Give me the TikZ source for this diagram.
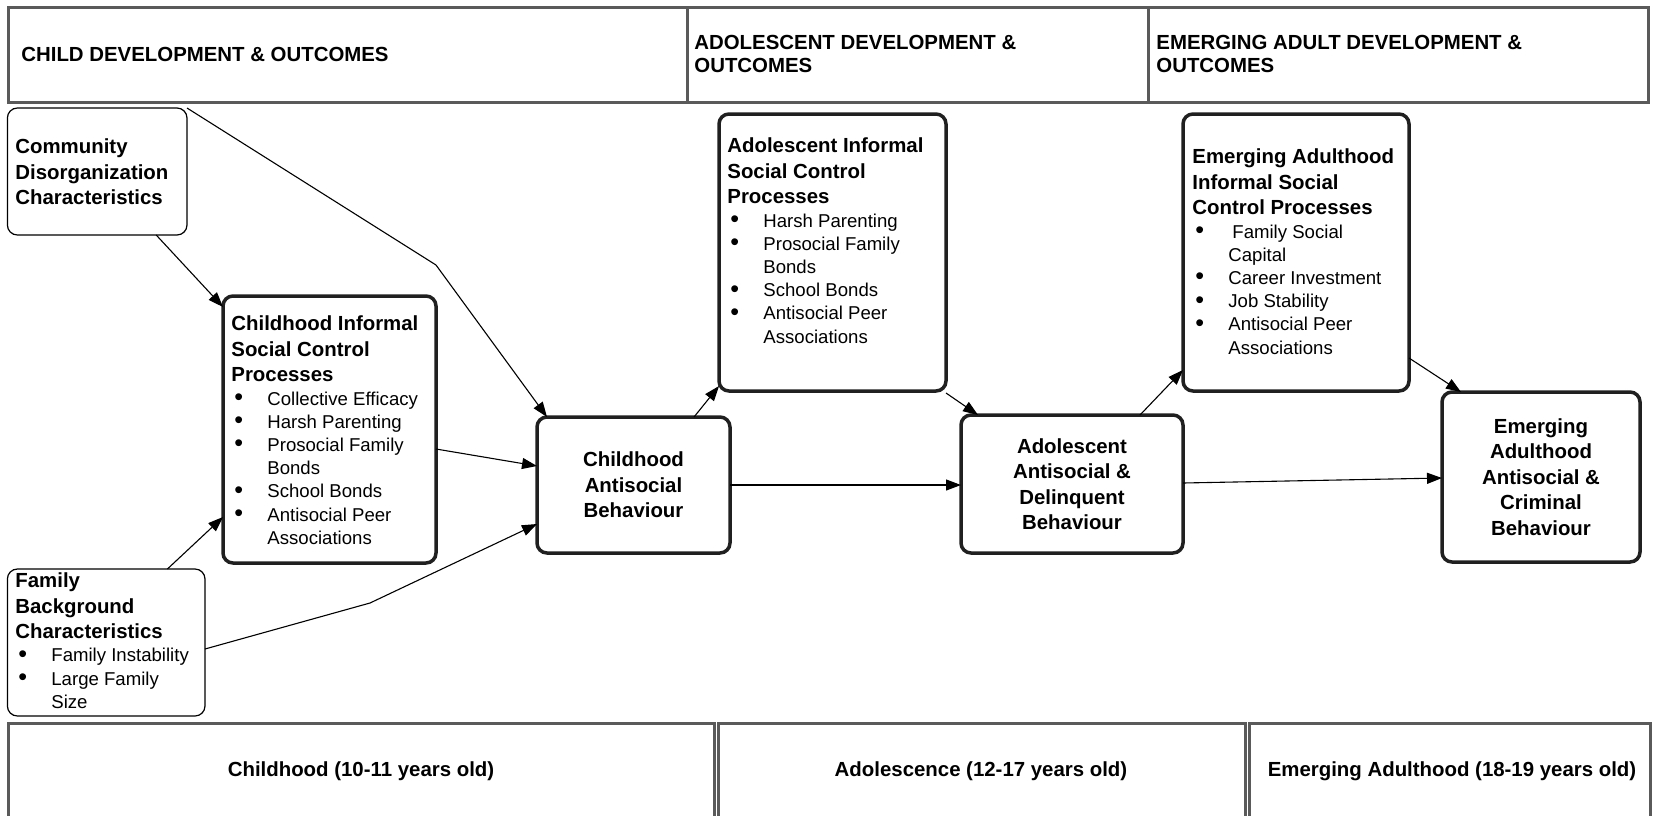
\documentclass[tikz,border=0pt]{standalone}
\usepackage{fontspec}
\setmainfont{Liberation Sans}
\usetikzlibrary{arrows.meta,calc}
\definecolor{bandgray}{HTML}{5A5A5A}
\definecolor{boxblack}{HTML}{202020}
\newcommand{\bul}{\makebox[16.5pt][l]{\raisebox{-0.25pt}{\scalebox{1.35}{\textbullet}}}}
\newcommand{\cont}{\hspace*{16.5pt}}
\begin{document}
\begin{tikzpicture}[x=0.5pt,y=-0.5pt,
  band/.style={draw=bandgray, line width=1.5pt, rectangle, inner sep=0pt, outer sep=0pt},
  thickbox/.style={draw=boxblack, line width=1.75pt, rectangle, rounded corners=5pt, inner sep=0pt, outer sep=0pt, fill=white},
  thinbox/.style={draw=black, line width=0.6pt, rectangle, rounded corners=5pt, inner sep=0pt, outer sep=0pt, fill=white},
  bandtext/.style={inner sep=0pt, font=\fontsize{10.2}{11.5}\selectfont\bfseries, align=left},
  titletext/.style={inner sep=0pt, anchor=north west, font=\fontsize{10.2}{12.65}\selectfont\bfseries, align=left},
  listtext/.style={inner sep=0pt, anchor=north west, font=\fontsize{9.3}{11.6}\selectfont, align=left},
  centertext/.style={align=center, font=\fontsize{10.2}{12.7}\selectfont\bfseries},
  arr/.style={draw=black, line width=0.55pt, -{Triangle[length=7.5pt,width=5.5pt]}},
  ln/.style={draw=black, line width=0.55pt}]
\clip (0,0) rectangle (1654,815);
\fill[white] (0,0) rectangle (1654,815);

% header bands
\node[band, minimum width=339.3pt, minimum height=47.3pt] (hdr1) at (347.7,54.7) {};
\node[band, minimum width=230.5pt, minimum height=47.3pt] (hdr2) at (917.5,54.7) {};
\node[band, minimum width=250pt, minimum height=47.3pt] (hdr3) at (1398,54.7) {};
\node[bandtext, anchor=west] (hdr1t) at (21,54) {CHILD DEVELOPMENT \& OUTCOMES};
\node[bandtext, anchor=west] (hdr2t) at (694,53.5) {ADOLESCENT DEVELOPMENT \&\\OUTCOMES};
\node[bandtext, anchor=west] (hdr3t) at (1156,53.5) {EMERGING ADULT DEVELOPMENT \&\\OUTCOMES};

% footer bands
\node[band, minimum width=352.8pt, minimum height=49.5pt] (ftr1) at (361.2,772.5) {};
\node[band, minimum width=263.5pt, minimum height=49.5pt] (ftr2) at (981.5,772.5) {};
\node[band, minimum width=200.5pt, minimum height=49.5pt] (ftr3) at (1449.5,772.5) {};
\node[bandtext] (ftr1t) at (361,771) {Childhood (10-11 years old)};
\node[bandtext] (ftr2t) at (981,771) {Adolescence (12-17 years old)};
\node[bandtext] (ftr3t) at (1452,771) {Emerging Adulthood (18-19 years old)};

% boxes
\node[thinbox, minimum width=89.8pt, minimum height=63.5pt] (comm) at (97.2,171.5) {};
\node[titletext] (commt) at (15,138.6) {Community\\Disorganization\\Characteristics};

\node[thickbox, minimum width=106.5pt, minimum height=133.5pt] (cisc) at (329.5,429.5) {};
\node[titletext] (cisct) at (231,315.6) {Childhood Informal\\Social Control\\Processes};
\node[listtext] (ciscl) at (234,391.2) {\bul Collective Efficacy\\\bul Harsh Parenting\\\bul Prosocial Family\\\cont Bonds\\\bul School Bonds\\\bul Antisocial Peer\\\cont Associations};

\node[thinbox, minimum width=98.8pt, minimum height=73.5pt] (fam) at (106.2,642.5) {};
\node[titletext] (famt) at (15,572.6) {Family\\Background\\Characteristics};
\node[listtext] (faml) at (18,648) {\bul Family Instability\\\bul Large Family\\\cont Size};

\node[thickbox, minimum width=96.5pt, minimum height=68pt, centertext] (cab) at (633.5,485) {Childhood\\Antisocial\\Behaviour};

\node[thickbox, minimum width=113.5pt, minimum height=138.5pt] (aisc) at (832.5,252.5) {};
\node[titletext] (aisct) at (727,137.6) {Adolescent Informal\\Social Control\\Processes};
\node[listtext] (aiscl) at (730,213.2) {\bul Harsh Parenting\\\bul Prosocial Family\\\cont Bonds\\\bul School Bonds\\\bul Antisocial Peer\\\cont Associations};

\node[thickbox, minimum width=111pt, minimum height=69pt, centertext] (aad) at (1072,484) {Adolescent\\Antisocial \&\\Delinquent\\Behaviour};

\node[thickbox, minimum width=113pt, minimum height=138.5pt] (eisc) at (1296,252.5) {};
\node[titletext] (eisct) at (1192,148.6) {Emerging Adulthood\\Informal Social\\Control Processes};
\node[listtext] (eiscl) at (1195,224.2) {\bul\hspace{2pt}Family Social\\\cont Capital\\\bul Career Investment\\\bul Job Stability\\\bul Antisocial Peer\\\cont Associations};

\node[thickbox, minimum width=99pt, minimum height=85pt, centertext] (eac) at (1541,477) {Emerging\\Adulthood\\Antisocial \&\\Criminal\\Behaviour};

% connectors
\coordinate (bend1) at (436,265);
\coordinate (bend2) at (370,603);
\draw[arr] (comm.north east) -- (bend1) -- ($(cab.north west)+(10,0)$);
\draw[arr] ($(comm.south)+(59,0)$) -- ($(cisc.north west)+(0,11)$);
\draw[arr] ($(fam.north west)+(160,0)$) -- ($(cisc.south west)+(0,-46)$);
\draw[arr] ($(cisc.east)+(0,19.5)$) -- ($(cab.west)+(0,-19)$);
\draw[arr] ($(fam.east)+(0,6.5)$) -- (bend2) -- ($(cab.west)+(0,39)$);
\draw[arr] (cab.east) -- (cab.east -| aad.west);
\draw[arr] ($(cab.north)+(60.5,0)$) -- ($(aisc.south west)+(0,-5)$);
\draw[arr] ($(aisc.south east)+(0,2)$) -- ($(aad.north west)+(17,0)$);
\draw[arr] ($(aad.north east)+(-43,0)$) -- ($(eisc.south west)+(0,-21)$);
\draw[arr] ($(aad.east)+(0,-1)$) -- ($(eac.west)+(0,1)$);
\draw[arr] ($(eisc.east)+(0,105.5)$) -- ($(eac.north west)+(19,0)$);
\end{tikzpicture}
\end{document}
